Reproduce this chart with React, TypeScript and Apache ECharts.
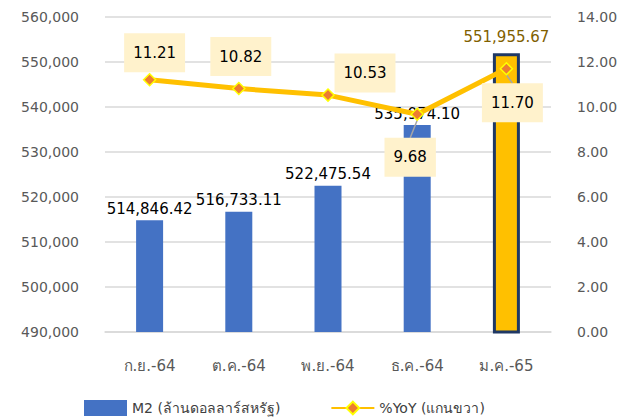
import React, { useEffect, useRef } from "react";
import * as echarts from "echarts";

const categories = ["ก.ย.-64", "ต.ค.-64", "พ.ย.-64", "ธ.ค.-64", "ม.ค.-65"];
const m2Values = [514846.42, 516733.11, 522475.54, 535974.1, 551955.67];
const yoyValues = [11.21, 10.82, 10.53, 9.68, 11.7];
const seriesNames = ["M2 (ล้านดอลลาร์สหรัฐ)", "%YoY (แกนขวา)"];

// label box offsets (px) relative to the line point, layout only
const yoyLabelOffsets: [number, number][] = [
  [5, -27],
  [2, -32],
  [37, -22],
  [-7, 43],
  [6, 34],
];

const FONT = "Tahoma, 'DejaVu Sans', 'Noto Sans', sans-serif";

export default function App() {
  const ref = useRef<HTMLDivElement>(null);
  useEffect(() => {
    if (!ref.current) return;
    const chart = echarts.init(ref.current, undefined, { renderer: "svg" });
    const last = m2Values.length - 1;
    chart.setOption({
      animation: false,
      textStyle: { fontFamily: FONT },
      grid: { left: 105, right: 82, top: 17, bottom: 87 },
      legend: {
        bottom: -2,
        left: 79,
        itemWidth: 43,
        itemHeight: 16,
        itemGap: 50,
        textStyle: { fontFamily: FONT, fontSize: 14, color: "#404040" },
        data: [
          { name: seriesNames[0], icon: "rect" },
          { name: seriesNames[1] },
        ],
      },
      xAxis: {
        type: "category",
        data: categories,
        axisTick: { show: false },
        axisLine: { lineStyle: { color: "#D9D9D9", width: 1.5 } },
        axisLabel: { color: "#595959", fontSize: 15, margin: 26, fontFamily: FONT },
      },
      yAxis: [
        {
          type: "value",
          min: 490000,
          max: 560000,
          interval: 10000,
          axisLabel: {
            color: "#595959",
            fontSize: 14,
            margin: 26,
            fontFamily: FONT,
            formatter: (v: number) => v.toLocaleString("en-US"),
          },
          splitLine: { lineStyle: { color: "#D9D9D9", width: 1.5 } },
        },
        {
          type: "value",
          min: 0,
          max: 14,
          interval: 2,
          axisLabel: {
            color: "#595959",
            fontSize: 14,
            margin: 26,
            fontFamily: FONT,
            formatter: (v: number) => v.toFixed(2),
          },
          splitLine: { show: false },
        },
      ],
      series: [
        {
          name: seriesNames[0],
          type: "bar",
          yAxisIndex: 0,
          barWidth: 27,
          itemStyle: { color: "#4472C4" },
          label: {
            show: true,
            position: "top",
            distance: 4,
            color: "#000000",
            fontSize: 15,
            fontFamily: FONT,
            formatter: (p: any) =>
              p.value.toLocaleString("en-US", { minimumFractionDigits: 2, maximumFractionDigits: 2 }),
          },
          data: m2Values.map((v, i) =>
            i === last
              ? {
                  value: v,
                  itemStyle: { color: "#FFC000", borderColor: "#1F3864", borderWidth: 3 },
                  label: { color: "#7F6000", distance: 9 },
                }
              : v
          ),
        },
        {
          name: seriesNames[1],
          type: "line",
          yAxisIndex: 1,
          z: 5,
          symbol: "diamond",
          symbolSize: 12,
          lineStyle: { color: "#FFC000", width: 5 },
          itemStyle: { color: "#ED7D31", borderColor: "#FFFF00", borderWidth: 1.5 },
          label: {
            show: true,
            position: "top",
            color: "#000000",
            fontSize: 15,
            fontFamily: FONT,
            backgroundColor: "#FFF2CC",
            padding: [12, 9, 12, 9],
            formatter: (p: any) => p.value.toFixed(2),
          },
          labelLine: { show: true, lineStyle: { color: "#A6A6A6", width: 1.5 } },
          labelLayout: (params: any) => {
            const off = yoyLabelOffsets[params.dataIndex] || [0, 0];
            const r = params.rect;
            return {
              x: r.x + r.width / 2 + off[0],
              y: r.y + r.height / 2 + off[1],
              align: "center",
              verticalAlign: "middle",
            };
          },
          data: yoyValues.map((v, i) =>
            i < 3 ? { value: v, labelLine: { show: false } } : { value: v }
          ),
        },
      ],
    });
    return () => chart.dispose();
  }, []);
  return <div ref={ref} style={{ width: 633, height: 419, position: "absolute", left: 0, top: 0 }} />;
}
